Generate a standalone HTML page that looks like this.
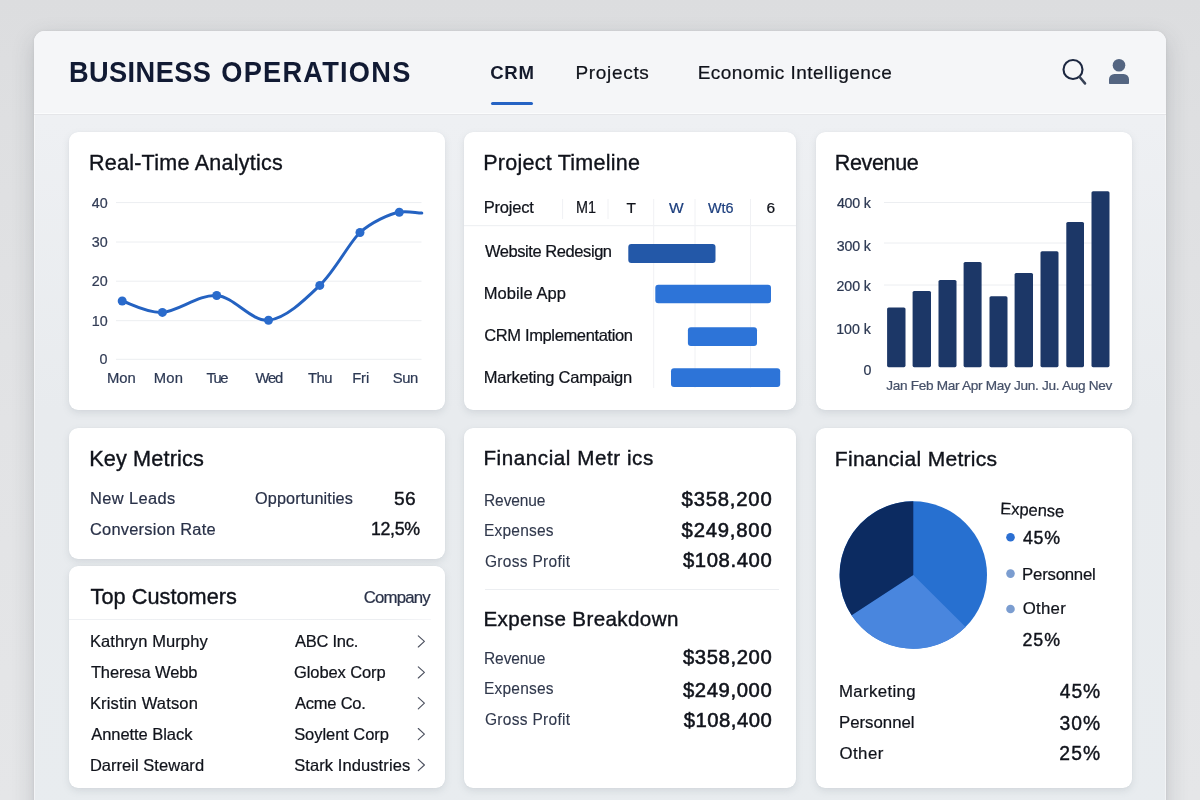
<!DOCTYPE html>
<html lang="en"><head><meta charset="utf-8"><title>Business Operations</title>
<style>
html,body{margin:0;padding:0}
body{width:1200px;height:800px;overflow:hidden;position:relative;font-family:"Liberation Sans",sans-serif;background:linear-gradient(#dcdddf 0px,#dedfe1 120px,#e2e3e5 420px,#e5e6e8 800px)}
.t{position:absolute;white-space:nowrap;line-height:1;display:block;-webkit-text-stroke:0.22px currentColor}
.abs{position:absolute}
.card{position:absolute;background:#fff;border-radius:9px;box-shadow:0 3px 7px rgba(110,122,138,.17),0 0 1px rgba(110,122,138,.12)}

.panel{position:absolute;left:34px;top:31px;width:1132px;height:800px;border-radius:11px;background:linear-gradient(#eff0f3 0px,#eef0f3 90px,#e8ebee 380px,#e8ecef 800px);box-shadow:0 8px 22px rgba(70,75,80,.22),0 0 3px rgba(70,75,80,.10),inset 0 0 0 1px rgba(255,255,255,.45)}
.head{position:absolute;left:34px;top:31px;width:1132px;height:82px;border-radius:11px 11px 0 0;background:#f5f6f8}
.hr{position:absolute;height:1px;background:#e6e8ec}

</style></head><body>
<div class="panel"></div><div class="head"></div>
<div class="hr" style="left:34px;top:113px;width:1132px;background:#fbfcfd"></div>
<div class="hr" style="left:34px;top:114px;width:1132px;background:#e5e6e9"></div>
<span class="t" style="left:68.89px;top:59.40px;font-size:27.2px;color:#111a33;font-weight:700;letter-spacing:0.445px;-webkit-text-stroke-width:0px;transform:scaleY(1.085);transform-origin:0 84.65%;">BUSINESS</span>
<span class="t" style="left:221.24px;top:59.40px;font-size:27.2px;color:#111a33;font-weight:700;letter-spacing:1.257px;-webkit-text-stroke-width:0px;transform:scaleY(1.085);transform-origin:0 84.65%;">OPERATIONS</span>
<span class="t" style="left:490.15px;top:64.20px;font-size:18.6px;color:#141a2c;font-weight:700;letter-spacing:0.744px;-webkit-text-stroke-width:0px;">CRM</span>
<div class="abs" style="left:491px;top:101.5px;width:42px;height:3.4px;border-radius:2px;background:#2563c4"></div>
<span class="t" style="left:575.50px;top:63.21px;font-size:19px;color:#10131b;letter-spacing:0.671px;">Projects</span>
<span class="t" style="left:697.70px;top:63.21px;font-size:19px;color:#10131b;letter-spacing:0.465px;">Economic Intelligence</span>
<svg class="abs" style="left:1055px;top:50px" width="90" height="44" viewBox="1055 50 90 44">
<circle cx="1073" cy="69.5" r="9.5" fill="none" stroke="#1c2740" stroke-width="2.1"/>
<line x1="1079.6" y1="77.0" x2="1085.0" y2="83.4" stroke="#384256" stroke-width="2.6" stroke-linecap="round"/>
<circle cx="1119" cy="65.2" r="6.3" fill="#546581"/>
<path d="M1109 83.3 V79.3 a5.4 5.4 0 0 1 5.4 -5.4 h9.2 a5.4 5.4 0 0 1 5.4 5.4 V83.3 a.8 .8 0 0 1 -.8 .8 h-18.4 a.8 .8 0 0 1 -.8 -.8 Z" fill="#546581"/>
</svg>
<div class="card" style="left:69px;top:132px;width:376px;height:277.5px"></div>
<div class="card" style="left:464px;top:132px;width:332px;height:277.5px"></div>
<div class="card" style="left:816px;top:132px;width:316px;height:277.5px"></div>
<div class="card" style="left:69px;top:428px;width:376px;height:130.5px"></div>
<div class="card" style="left:69px;top:566px;width:376px;height:221.5px"></div>
<div class="card" style="left:464px;top:428px;width:332px;height:360px"></div>
<div class="card" style="left:816px;top:428px;width:316px;height:360px"></div>
<span class="t" style="left:88.95px;top:152.91px;font-size:21.5px;color:#10131b;letter-spacing:0.256px;-webkit-text-stroke-width:0.35px;">Real-Time Analytics</span>
<svg class="abs" style="left:69px;top:132px" width="376" height="278" viewBox="69 132 376 278"><line x1="116" x2="421.5" y1="202.6" y2="202.6" stroke="#eceef1" stroke-width="1"/><line x1="116" x2="421.5" y1="242" y2="242" stroke="#eceef1" stroke-width="1"/><line x1="116" x2="421.5" y1="281.2" y2="281.2" stroke="#eceef1" stroke-width="1"/><line x1="116" x2="421.5" y1="320.7" y2="320.7" stroke="#eceef1" stroke-width="1"/><line x1="116" x2="421.5" y1="359.3" y2="359.3" stroke="#eceef1" stroke-width="1"/><path d="M122.2 301 C128.9 302.9 146.7 313.3 162.4 312.4 C178.2 311.5 199.0 294.2 216.7 295.5 C234.4 296.8 251.3 321.9 268.5 320.2 C285.7 318.5 304.6 300.0 319.8 285.4 C335.1 270.8 349.4 242.3 360 232.5 C370.6 222.7 390.3 213.4 399.3 212.2 C408.3 211.0 415.8 213.0 421.8 213.1" fill="none" stroke="#2462c1" stroke-width="3" stroke-linecap="round" stroke-linejoin="round"/><circle cx="122.2" cy="301" r="4.5" fill="#2a6bcc"/><circle cx="162.4" cy="312.4" r="4.5" fill="#2a6bcc"/><circle cx="216.7" cy="295.5" r="4.5" fill="#2a6bcc"/><circle cx="268.5" cy="320.2" r="4.5" fill="#2a6bcc"/><circle cx="319.8" cy="285.4" r="4.5" fill="#2a6bcc"/><circle cx="360" cy="232.5" r="4.5" fill="#2a6bcc"/><circle cx="399.3" cy="212.2" r="4.5" fill="#2a6bcc"/></svg>
<span class="t" style="left:91.69px;top:195.50px;font-size:14.3px;color:#333d56;">40</span>
<span class="t" style="left:91.69px;top:234.90px;font-size:14.3px;color:#333d56;">30</span>
<span class="t" style="left:91.69px;top:274.10px;font-size:14.3px;color:#333d56;">20</span>
<span class="t" style="left:91.69px;top:313.60px;font-size:14.3px;color:#333d56;">10</span>
<span class="t" style="left:99.62px;top:352.20px;font-size:14.3px;color:#333d56;">0</span>
<span class="t" style="left:107.01px;top:370.61px;font-size:14.8px;color:#2d3954;letter-spacing:0.019px;">Mon</span>
<span class="t" style="left:153.81px;top:370.61px;font-size:14.8px;color:#2d3954;letter-spacing:0.219px;">Mon</span>
<span class="t" style="left:206.49px;top:370.61px;font-size:14.8px;color:#2d3954;letter-spacing:-1.519px;">Tue</span>
<span class="t" style="left:255.54px;top:370.61px;font-size:14.8px;color:#2d3954;letter-spacing:-1.263px;">Wed</span>
<span class="t" style="left:308.09px;top:370.61px;font-size:14.8px;color:#2d3954;letter-spacing:-0.512px;">Thu</span>
<span class="t" style="left:352.21px;top:370.61px;font-size:14.8px;color:#2d3954;letter-spacing:-0.131px;">Fri</span>
<span class="t" style="left:392.68px;top:370.61px;font-size:14.8px;color:#2d3954;letter-spacing:-0.344px;">Sun</span>
<span class="t" style="left:483.25px;top:152.91px;font-size:21.5px;color:#10131b;letter-spacing:0.246px;-webkit-text-stroke-width:0.35px;">Project Timeline</span>
<svg class="abs" style="left:464px;top:132px" width="332" height="278" viewBox="464 132 332 278"><line x1="464" x2="796" y1="225.7" y2="225.7" stroke="#eceef1" stroke-width="1"/><line x1="562.6" x2="562.6" y1="199" y2="219" stroke="#f0f1f4" stroke-width="1"/><line x1="608" x2="608" y1="199" y2="219" stroke="#f0f1f4" stroke-width="1"/><line x1="653.7" x2="653.7" y1="199" y2="388" stroke="#f0f1f4" stroke-width="1"/><line x1="695" x2="695" y1="199" y2="388" stroke="#f0f1f4" stroke-width="1"/><line x1="750.5" x2="750.5" y1="199" y2="388" stroke="#f0f1f4" stroke-width="1"/><rect x="628.3" y="243.9" width="87.2" height="19.0" rx="3" fill="#2358a8"/><rect x="655.3" y="284.7" width="115.7" height="18.6" rx="3" fill="#2d74d8"/><rect x="687.9" y="327.2" width="69.1" height="18.7" rx="3" fill="#2d74d8"/><rect x="671" y="368.3" width="109.2" height="18.7" rx="3" fill="#2d74d8"/></svg>
<span class="t" style="left:483.69px;top:198.80px;font-size:16.5px;color:#10131b;letter-spacing:-0.206px;">Project</span>
<span class="t" style="left:576.02px;top:200.00px;font-size:16px;color:#10131b;letter-spacing:-0.125px;transform:scaleX(0.9);transform-origin:0 0;">M1</span>
<span class="t" style="left:626.39px;top:200.00px;font-size:15.5px;color:#10131b;">T</span>
<span class="t" style="left:668.94px;top:200.00px;font-size:15.5px;color:#1d3f7e;">W</span>
<span class="t" style="left:707.64px;top:200.00px;font-size:15.5px;color:#1d3f7e;transform:scaleX(.93);transform-origin:left;">Wt6</span>
<span class="t" style="left:766.55px;top:200.00px;font-size:15.5px;color:#10131b;">6</span>
<span class="t" style="left:484.94px;top:242.80px;font-size:16.5px;color:#10131b;letter-spacing:-0.433px;">Website Redesign</span>
<span class="t" style="left:483.69px;top:284.61px;font-size:16.5px;color:#10131b;letter-spacing:0.064px;">Mobile App</span>
<span class="t" style="left:484.19px;top:326.80px;font-size:16.5px;color:#10131b;letter-spacing:-0.360px;">CRM Implementation</span>
<span class="t" style="left:483.69px;top:368.91px;font-size:16.5px;color:#10131b;letter-spacing:-0.216px;">Marketing Campaign</span>
<span class="t" style="left:834.75px;top:152.91px;font-size:21.5px;color:#10131b;letter-spacing:-0.340px;-webkit-text-stroke-width:0.35px;">Revenue</span>
<svg class="abs" style="left:816px;top:132px" width="316" height="278" viewBox="816 132 316 278"><line x1="884" x2="1094" y1="202.5" y2="202.5" stroke="#eceef1" stroke-width="1"/><line x1="884" x2="1094" y1="243" y2="243" stroke="#eceef1" stroke-width="1"/><line x1="884" x2="1094" y1="285" y2="285" stroke="#eceef1" stroke-width="1"/><rect x="887.1" y="307.5" width="18.4" height="59.7" rx="1.6" fill="#1c3767"/><rect x="912.6" y="291" width="18.4" height="76.2" rx="1.6" fill="#1c3767"/><rect x="938.5" y="280" width="18.0" height="87.2" rx="1.6" fill="#1c3767"/><rect x="963.6" y="262" width="18.0" height="105.2" rx="1.6" fill="#1c3767"/><rect x="989.5" y="296.2" width="18.0" height="71.0" rx="1.6" fill="#1c3767"/><rect x="1014.6" y="273" width="18.4" height="94.2" rx="1.6" fill="#1c3767"/><rect x="1040.5" y="251.2" width="18.0" height="116.0" rx="1.6" fill="#1c3767"/><rect x="1066.3" y="222" width="17.7" height="145.2" rx="1.6" fill="#1c3767"/><rect x="1091.5" y="191.2" width="18.0" height="176.0" rx="1.6" fill="#1c3767"/></svg>
<span class="t" style="left:836.89px;top:196.31px;font-size:14.2px;color:#2c3852;letter-spacing:-0.159px;">400 k</span>
<span class="t" style="left:836.70px;top:239.10px;font-size:14.2px;color:#2c3852;letter-spacing:-0.113px;">300 k</span>
<span class="t" style="left:836.51px;top:279.10px;font-size:14.2px;color:#2c3852;letter-spacing:-0.066px;">200 k</span>
<span class="t" style="left:836.14px;top:322.10px;font-size:14.2px;color:#2c3852;letter-spacing:0.028px;">100 k</span>
<span class="t" style="left:863.42px;top:363.10px;font-size:14.2px;color:#2c3852;">0</span>
<span class="t" style="left:886.21px;top:379.20px;font-size:13.6px;color:#465169;letter-spacing:-0.299px;">Jan Feb Mar Apr May Jun. Ju. Aug Nev</span>
<span class="t" style="left:89.15px;top:447.61px;font-size:21.7px;color:#10131b;letter-spacing:0.135px;-webkit-text-stroke-width:0.38px;">Key Metrics</span>
<span class="t" style="left:89.89px;top:490.10px;font-size:17.3px;color:#293148;letter-spacing:0.414px;transform:scaleX(0.95);transform-origin:0 0;">New Leads</span>
<span class="t" style="left:254.69px;top:489.71px;font-size:17.1px;color:#293148;letter-spacing:0.112px;transform:scaleX(0.95);transform-origin:0 0;">Opportunities</span>
<span class="t" style="left:393.56px;top:490.81px;font-size:17.8px;color:#10131b;letter-spacing:0.391px;-webkit-text-stroke-width:0.4px;transform:scaleX(1.08);transform-origin:0 0;">56</span>
<span class="t" style="left:90.37px;top:521.21px;font-size:17.3px;color:#293148;letter-spacing:0.246px;transform:scaleX(0.95);transform-origin:0 0;">Conversion Rate</span>
<span class="t" style="left:371.09px;top:521.21px;font-size:17.8px;color:#10131b;letter-spacing:-0.384px;-webkit-text-stroke-width:0.4px;">12,5%</span>
<span class="t" style="left:90.56px;top:585.61px;font-size:21.7px;color:#10131b;letter-spacing:0.048px;-webkit-text-stroke-width:0.38px;">Top Customers</span>
<span class="t" style="left:363.69px;top:589.71px;font-size:16.8px;color:#2a3249;letter-spacing:-0.812px;">Company</span>
<div class="hr" style="left:69px;top:618.5px;width:362px;background:linear-gradient(90deg,#eef0f3 0%,#eceef1 90%,#f6f7f9 100%)"></div>
<span class="t" style="left:89.89px;top:633.02px;font-size:16.5px;color:#10131b;letter-spacing:0.101px;">Kathryn Murphy</span>
<span class="t" style="left:294.90px;top:633.02px;font-size:16.5px;color:#10131b;letter-spacing:-0.232px;">ABC Inc.</span>
<span class="t" style="left:90.89px;top:664.02px;font-size:16.5px;color:#10131b;letter-spacing:-0.122px;">Theresa Webb</span>
<span class="t" style="left:294.09px;top:664.02px;font-size:16.5px;color:#10131b;letter-spacing:-0.102px;">Globex Corp</span>
<span class="t" style="left:89.89px;top:694.80px;font-size:16.5px;color:#10131b;letter-spacing:0.171px;">Kristin Watson</span>
<span class="t" style="left:294.90px;top:694.80px;font-size:16.5px;color:#10131b;letter-spacing:-0.200px;">Acme Co.</span>
<span class="t" style="left:91.20px;top:725.71px;font-size:16.5px;color:#10131b;letter-spacing:-0.048px;">Annette Black</span>
<span class="t" style="left:294.15px;top:725.71px;font-size:16.5px;color:#10131b;letter-spacing:-0.049px;">Soylent Corp</span>
<span class="t" style="left:89.89px;top:756.61px;font-size:16.5px;color:#10131b;letter-spacing:0.035px;">Darreil Steward</span>
<span class="t" style="left:294.15px;top:756.61px;font-size:16.5px;color:#10131b;letter-spacing:0.093px;">Stark Industries</span>
<svg class="abs" style="left:410px;top:625px" width="24" height="160" viewBox="410 625 24 160"><path d="M418.3 635.8 L424.4 641.4 L418.3 647.0" fill="none" stroke="#4d5260" stroke-width="1.15" stroke-linecap="round" stroke-linejoin="round"/><path d="M418.3 666.8 L424.4 672.4 L418.3 678.0" fill="none" stroke="#4d5260" stroke-width="1.15" stroke-linecap="round" stroke-linejoin="round"/><path d="M418.3 697.5999999999999 L424.4 703.1999999999999 L418.3 708.8" fill="none" stroke="#4d5260" stroke-width="1.15" stroke-linecap="round" stroke-linejoin="round"/><path d="M418.3 728.5 L424.4 734.1 L418.3 739.7" fill="none" stroke="#4d5260" stroke-width="1.15" stroke-linecap="round" stroke-linejoin="round"/><path d="M418.3 759.4 L424.4 765.0 L418.3 770.6" fill="none" stroke="#4d5260" stroke-width="1.15" stroke-linecap="round" stroke-linejoin="round"/></svg>
<span class="t" style="left:483.48px;top:447.91px;font-size:20.6px;color:#10131b;letter-spacing:0.563px;-webkit-text-stroke-width:0.4px;">Financial Metr ics</span>
<div class="hr" style="left:484.5px;top:589px;width:294px;background:#eceef1"></div>
<span class="t" style="left:483.48px;top:609.02px;font-size:20.6px;color:#10131b;letter-spacing:0.376px;-webkit-text-stroke-width:0.4px;">Expense Breakdown</span>
<span class="t" style="left:484.28px;top:492.50px;font-size:16.7px;color:#30384c;letter-spacing:-0.111px;-webkit-text-stroke-width:0.12px;transform:scaleX(0.93);transform-origin:0 0;">Revenue</span>
<span class="t" style="left:681.61px;top:488.70px;font-size:20.3px;color:#10131b;letter-spacing:0.786px;-webkit-text-stroke-width:0.55px;">$358,200</span>
<span class="t" style="left:484.28px;top:522.81px;font-size:16.7px;color:#30384c;letter-spacing:0.218px;-webkit-text-stroke-width:0.12px;transform:scaleX(0.93);transform-origin:0 0;">Expenses</span>
<span class="t" style="left:681.61px;top:519.50px;font-size:20.3px;color:#10131b;letter-spacing:0.786px;-webkit-text-stroke-width:0.55px;">$249,800</span>
<span class="t" style="left:484.74px;top:553.61px;font-size:16.7px;color:#30384c;letter-spacing:0.314px;-webkit-text-stroke-width:0.12px;transform:scaleX(0.93);transform-origin:0 0;">Gross Profit</span>
<span class="t" style="left:682.91px;top:550.31px;font-size:20.3px;color:#10131b;letter-spacing:0.600px;-webkit-text-stroke-width:0.55px;">$108.400</span>
<span class="t" style="left:484.28px;top:650.61px;font-size:16.7px;color:#30384c;letter-spacing:-0.111px;-webkit-text-stroke-width:0.12px;transform:scaleX(0.93);transform-origin:0 0;">Revenue</span>
<span class="t" style="left:682.91px;top:647.11px;font-size:20.3px;color:#10131b;letter-spacing:0.600px;-webkit-text-stroke-width:0.55px;">$358,200</span>
<span class="t" style="left:484.28px;top:681.41px;font-size:16.7px;color:#30384c;letter-spacing:0.218px;-webkit-text-stroke-width:0.12px;transform:scaleX(0.93);transform-origin:0 0;">Expenses</span>
<span class="t" style="left:682.91px;top:679.50px;font-size:20.3px;color:#10131b;letter-spacing:0.600px;-webkit-text-stroke-width:0.55px;">$249,000</span>
<span class="t" style="left:484.74px;top:712.22px;font-size:16.7px;color:#30384c;letter-spacing:0.314px;-webkit-text-stroke-width:0.12px;transform:scaleX(0.93);transform-origin:0 0;">Gross Profit</span>
<span class="t" style="left:683.81px;top:709.81px;font-size:20.3px;color:#10131b;letter-spacing:0.471px;-webkit-text-stroke-width:0.55px;">$108,400</span>
<span class="t" style="left:834.81px;top:447.72px;font-size:21px;color:#10131b;letter-spacing:0.298px;-webkit-text-stroke-width:0.38px;">Financial Metrics</span>
<svg class="abs" style="left:816px;top:428px" width="316" height="360" viewBox="816 428 316 360"><circle cx="913.3" cy="575.0" r="73.7" fill="#2770d0"/><path d="M913.3 575.0 L965.60 626.93 A73.7 73.7 0 0 1 851.63 615.36 Z" fill="#4986de"/><path d="M913.3 575.0 L851.63 615.36 A73.7 73.7 0 0 1 913.30 501.30 Z" fill="#0c2b61"/><circle cx="1010.5" cy="537.3" r="4.3" fill="#2b6fd2"/><circle cx="1010.5" cy="573.6" r="4.3" fill="#7b9dd0"/><circle cx="1010.5" cy="609.0" r="4.3" fill="#7b9dd0"/></svg>
<span class="t" style="left:1000.19px;top:500.60px;font-size:16.6px;color:#10131b;letter-spacing:-0.090px;transform:rotate(2.8deg);transform-origin:0% 85%;">Expense</span>
<span class="t" style="left:1023.02px;top:529.62px;font-size:17.8px;color:#10131b;letter-spacing:0.719px;-webkit-text-stroke-width:0.4px;">45%</span>
<span class="t" style="left:1022.09px;top:566.60px;font-size:16.8px;color:#10131b;letter-spacing:-0.237px;">Personnel</span>
<span class="t" style="left:1022.65px;top:601.41px;font-size:16.8px;color:#10131b;letter-spacing:0.281px;">Other</span>
<span class="t" style="left:1022.52px;top:631.62px;font-size:17.8px;color:#10131b;letter-spacing:0.969px;-webkit-text-stroke-width:0.4px;">25%</span>
<span class="t" style="left:838.99px;top:683.80px;font-size:16.8px;color:#10131b;letter-spacing:0.364px;">Marketing</span>
<span class="t" style="left:1059.76px;top:681.81px;font-size:19.3px;color:#10131b;letter-spacing:0.931px;-webkit-text-stroke-width:0.4px;">45%</span>
<span class="t" style="left:838.99px;top:714.71px;font-size:16.8px;color:#10131b;">Personnel</span>
<span class="t" style="left:1059.51px;top:713.61px;font-size:19.3px;color:#10131b;letter-spacing:1.056px;-webkit-text-stroke-width:0.4px;">30%</span>
<span class="t" style="left:839.55px;top:745.51px;font-size:16.8px;color:#10131b;letter-spacing:0.431px;">Other</span>
<span class="t" style="left:1059.26px;top:744.01px;font-size:19.3px;color:#10131b;letter-spacing:1.181px;-webkit-text-stroke-width:0.4px;">25%</span>
</body></html>
